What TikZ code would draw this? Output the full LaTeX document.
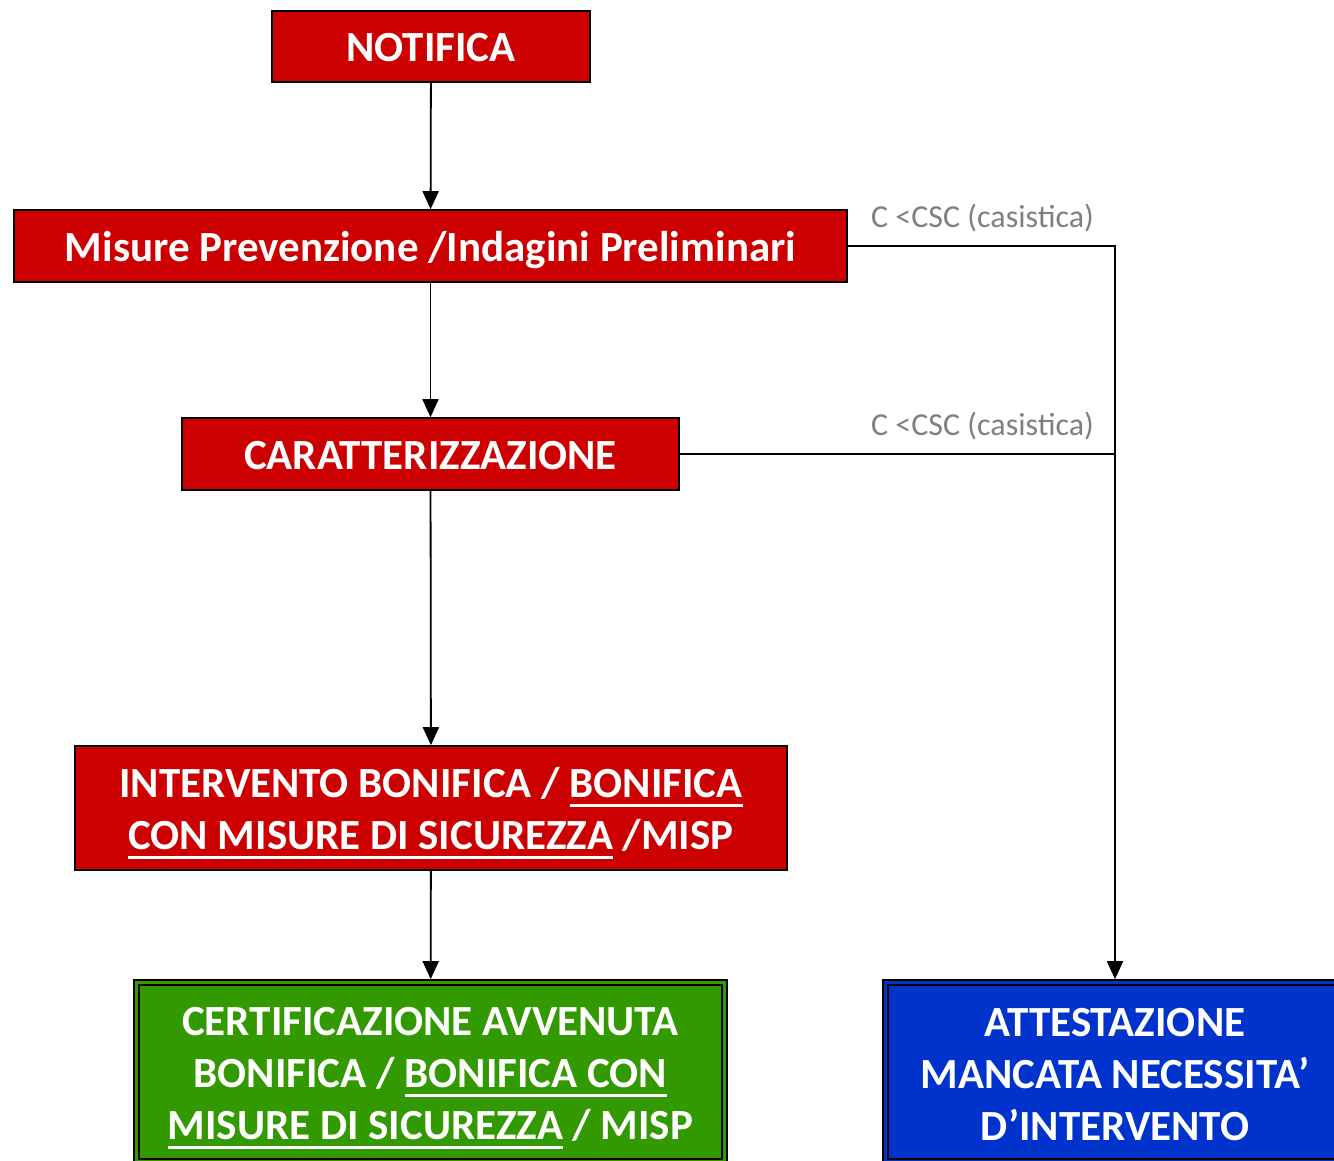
\documentclass[tikz,border=0pt]{standalone}
\usepackage{fontspec}
\setmainfont{Carlito}
\usetikzlibrary{arrows.meta}
\definecolor{boxred}{HTML}{CC0000}
\definecolor{boxgreen}{HTML}{339900}
\definecolor{boxblue}{HTML}{0033CC}
\definecolor{lblgray}{HTML}{7F7F7F}
\newsavebox{\myulbox}
\newcommand{\ul}[1]{\sbox{\myulbox}{#1}\rlap{\rule[-9pt]{\wd\myulbox}{3pt}}\usebox{\myulbox}}
\begin{document}
\begin{tikzpicture}[x=1pt,y=-1pt,
  redbox/.style={draw=black,line width=1.6pt,fill=boxred,text=white,font=\fontsize{43}{52}\selectfont\bfseries,align=center,inner sep=0pt,text height=30pt,text depth=0pt},
  boxtxt/.style={text=white,font=\fontsize{43}{52}\selectfont\bfseries,align=center,inner sep=0pt},
  conn/.style={line width=1.8pt,-{Triangle[length=18pt,width=16pt]}},
  plain/.style={line width=1.8pt},
  lbl/.style={text=lblgray,font=\fontsize{32}{38}\selectfont,anchor=west,inner sep=0pt}]
\useasboundingbox (0,0) rectangle (1334,1160);
\node[redbox,minimum width=318pt,minimum height=71pt] (notif) at (431,46.5) {NOTIFICA};
\node[redbox,minimum width=833pt,minimum height=72pt] (misure) at (430.5,246) {Misure Prevenzione /Indagini Preliminari};
\node[redbox,minimum width=497pt,minimum height=72pt] (carat) at (430.5,454) {CARATTERIZZAZIONE};
\node[redbox,minimum width=712pt,minimum height=124pt] (interv) at (431,808) {};
\node[boxtxt] (intervtxt) at (431,813) {INTERVENTO BONIFICA / \ul{BONIFICA}\\\ul{CON MISURE DI SICUREZZA} /MISP};
% green double box
\node[redbox,fill=boxgreen,minimum width=593pt,minimum height=184pt] (cert) at (430.5,1072) {};
\draw[line width=1.6pt] ([xshift=6pt,yshift=-6pt]cert.north west) rectangle ([xshift=-6pt,yshift=6pt]cert.south east);
\node[boxtxt] (certtxt) at (430.5,1078) {CERTIFICAZIONE AVVENUTA\\BONIFICA / \ul{BONIFICA CON}\\\ul{MISURE DI SICUREZZA} / MISP};
% blue double box
\node[redbox,fill=boxblue,minimum width=464pt,minimum height=184pt] (att) at (1115,1072) {};
\draw[line width=1.6pt] ([xshift=6pt,yshift=-6pt]att.north west) rectangle ([xshift=-6pt,yshift=6pt]att.south east);
\node[boxtxt] (atttxt) at (1115,1074.5) {ATTESTAZIONE\\MANCATA NECESSITA’\\D’INTERVENTO};
% connectors
\draw[conn] (notif) -- (misure);
\draw[conn] (misure) -- (carat);
\draw[conn] (carat) -- (interv);
\draw[conn] (interv) -- (cert);
\coordinate (j1) at (1115,246);
\coordinate (j2) at (1115,454);
\draw[plain] (misure.east) -- (j1) -- (j2);
\draw[plain] (carat.east) -- (j2);
\draw[conn] (j2) -- (att.north);
\node[lbl] (l1) at (871,218) {C <CSC (casistica)};
\node[lbl] (l2) at (871,426) {C <CSC (casistica)};
\end{tikzpicture}
\end{document}
